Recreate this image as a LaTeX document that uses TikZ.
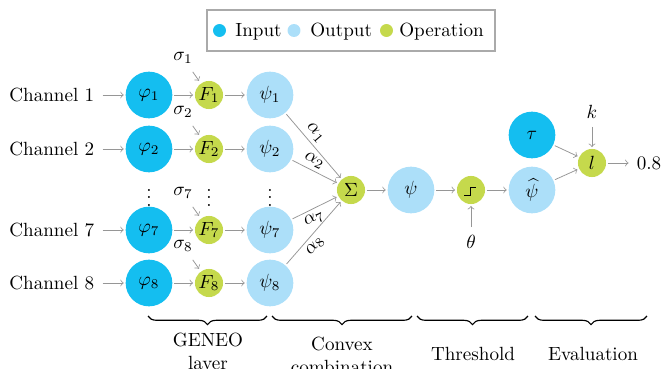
\documentclass[tikz,border=0pt]{standalone}
\usetikzlibrary{decorations.pathreplacing}
\definecolor{inc}{RGB}{20,190,240}
\definecolor{outc}{RGB}{172,223,249}
\definecolor{opc}{RGB}{197,217,76}
\definecolor{arrc}{RGB}{150,150,150}
\definecolor{boxc}{RGB}{170,170,170}
\begin{document}
\begin{tikzpicture}[x=0.5236pt,y=-0.5236pt,
  big/.style={circle,minimum size=24.45pt,inner sep=0pt},
  inp/.style={big,fill=inc},
  outp/.style={big,fill=outc},
  op/.style={circle,minimum size=14.7pt,inner sep=0pt,fill=opc},
  legdot/.style={circle,minimum size=6.8pt,inner sep=0pt},
  legtxt/.style={anchor=base west,inner sep=0pt},
  arr/.style={->,draw=arrc,line width=0.4pt,shorten >=0.8pt,shorten <=0.8pt},
  brc/.style={decorate,decoration={brace,mirror,amplitude=4.5pt},line width=0.6pt},
  lab/.style={align=center}]
\useasboundingbox (0,0) rectangle (664,369);

% legend
\draw[boxc,line width=0.6pt] (207,10) rectangle (495,51);
\node[legdot,fill=inc] (l1) at (219.5,30.5) {};
\node[legtxt] (lt1) at (235,36) {Input};
\node[legdot,fill=outc] (l2) at (294,30.5) {};
\node[legtxt] (lt2) at (310,36) {Output};
\node[legdot,fill=opc] (l3) at (386.5,30.5) {};
\node[legtxt] (lt3) at (399,36) {Operation};

% channels
\foreach \i/\y in {1/95,2/149,7/230,8/283}{
  \node[anchor=east] (ch\i) at (101,\y) {Channel \i};
  \node[inp] (phi\i) at (149,\y) {$\varphi_{\i}$};
  \node[op] (F\i) at (209,\y) {$F_{\i}$};
  \node[outp] (psi\i) at (270,\y) {$\psi_{\i}$};
  \node (s\i) at (183,\y-37) {$\sigma_{\i}$};
  \draw[arr] (ch\i) -- (phi\i);
  \draw[arr] (phi\i) -- (F\i);
  \draw[arr] (F\i) -- (psi\i);
  \draw[arr,shorten <=1pt,shorten >=1.5pt] (s\i) -- (F\i);
}
\node (v1) at (149,192) {$\vdots$};
\node (v2) at (209,192) {$\vdots$};
\node (v3) at (270,192) {$\vdots$};

% convex combination
\node[op] (sig) at (351,190) {$\Sigma$};
\draw[arr] (psi1) -- node[pos=0.4,above,sloped,inner sep=2pt] {$\alpha_1$} (sig);
\draw[arr] (psi2) -- node[pos=0.4,above,sloped,inner sep=2pt] {$\alpha_2$} (sig);
\draw[arr] (psi7) -- node[pos=0.4,below,sloped,inner sep=2pt] {$\alpha_7$} (sig);
\draw[arr] (psi8) -- node[pos=0.4,below,sloped,inner sep=2pt] {$\alpha_8$} (sig);
\node[outp] (psi) at (411,190) {$\psi$};
\draw[arr] (sig) -- (psi);

% threshold
\node[op] (thr) at (471,190) {};
\draw[line width=0.9pt] ([shift={(-6.5,5.5)}]thr.center) -- ++(6,0) -- ++(0,-8) -- ++(5.5,0);
\node (theta) at (471,242) {$\theta$};
\draw[arr] (theta) -- (thr);
\draw[arr] (psi) -- (thr);
\node[outp] (psih) at (532,190) {$\widehat{\psi}$};
\draw[arr] (thr) -- (psih);

% evaluation
\node[inp] (tau) at (532,135) {$\tau$};
\node[op] (loss) at (592,163) {$l$};
\node (k) at (592,112) {$k$};
\node (res) at (649,163) {0.8};
\draw[arr] (k) -- (loss);
\draw[arr] (tau) -- (loss);
\draw[arr] (psih) -- (loss);
\draw[arr] (loss) -- (res);

% braces
\draw[brc] (148,316) -- (267,316);
\draw[brc] (272,316) -- (412,316);
\draw[brc] (417,316) -- (528,316);
\draw[brc] (535,316) -- (647,316);
\node[lab] (b1) at (208,353) {GENEO\\layer};
\node[lab] (b2) at (342,355) {Convex\\combination};
\node[lab] (b3) at (473,354) {Threshold};
\node[lab] (b4) at (593,354) {Evaluation};
\end{tikzpicture}
\end{document}
